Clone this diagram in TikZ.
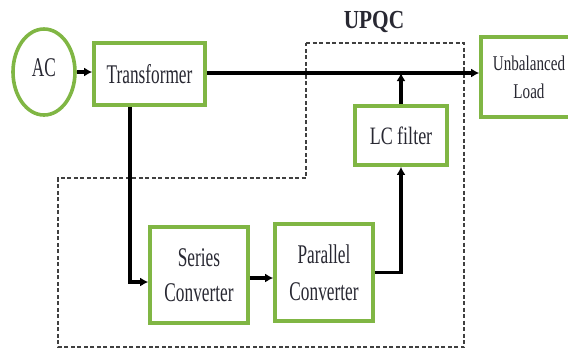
\documentclass[tikz,border=0pt]{standalone}
\usepackage{fontspec}
\setmainfont{Liberation Serif}[FakeStretch=0.64]
\newfontfamily\titlefont{Liberation Serif}[FakeStretch=0.82]
\newfontfamily\midfont{Liberation Serif}[FakeStretch=0.72]
\usetikzlibrary{arrows.meta,shapes.geometric}
\definecolor{boxgreen}{RGB}{128,182,68}
\definecolor{txt}{RGB}{40,40,50}
\begin{document}
\begin{tikzpicture}[x=1pt,y=-1pt,
  gbox/.style={draw=boxgreen,line width=3.6pt,fill=white,rectangle,inner sep=0pt,text=txt,align=center,font=\fontsize{27}{29}\selectfont},
  arr/.style={line width=3.4pt,-{Latex[length=8pt,width=9pt]}},
  dbox/.style={draw=black!75,line width=1.1pt,dash pattern=on 4pt off 2.5pt}]
\useasboundingbox (0,0) rectangle (568,349);
% dashed UPQC boundary
\draw[dbox] (306,43) -- (464,43) -- (464,347) -- (58,347) -- (58,178) -- (306,178) -- cycle;
\node[font=\titlefont\fontsize{26}{26}\selectfont\bfseries,text=txt] (upqc) at (374,22) {UPQC};
% nodes
\node[ellipse,draw=boxgreen,line width=3.6pt,minimum width=62pt,minimum height=86pt,inner sep=0pt,text=txt,font=\fontsize{27}{27}\selectfont] (ac) at (44,72) {\raisebox{8pt}{AC}};
\node[gbox,minimum width=111pt,minimum height=62pt] (tr) at (149.5,74) {Transformer};
\node[gbox,minimum width=96pt,minimum height=80pt,font=\midfont\fontsize{21}{28}\selectfont] (load) at (529,77) {Unbalanced\\Load};
\node[gbox,minimum width=92pt,minimum height=59pt,font=\midfont\fontsize{25}{25}\selectfont] (lc) at (401,135.5) {LC filter};
\node[gbox,minimum width=98pt,minimum height=96pt,font=\fontsize{27}{35}\selectfont] (se) at (199,275) {Series\\Converter};
\node[gbox,minimum width=98pt,minimum height=97pt,font=\fontsize{27}{37}\selectfont] (pc) at (324,272.5) {Parallel\\Converter};
% helper coordinates
\coordinate (j1) at (130,282);
\coordinate (j2) at (260,278);
\coordinate (j3) at (401,73);
% connectors
\draw[arr] (ac.east) -- (ac.east -| tr.west);
\draw[arr] (tr.east |- j3) -- (j3 -| load.west);
\draw[arr] (lc.north) -- (j3);
\draw[arr] (tr.south -| j1) -- (j1) -- (j1 -| se.west);
\draw[arr] (se.east |- j2) -- (pc.west |- j2);
\draw[arr] (pc.east) -| (lc.south);
\end{tikzpicture}
\end{document}
